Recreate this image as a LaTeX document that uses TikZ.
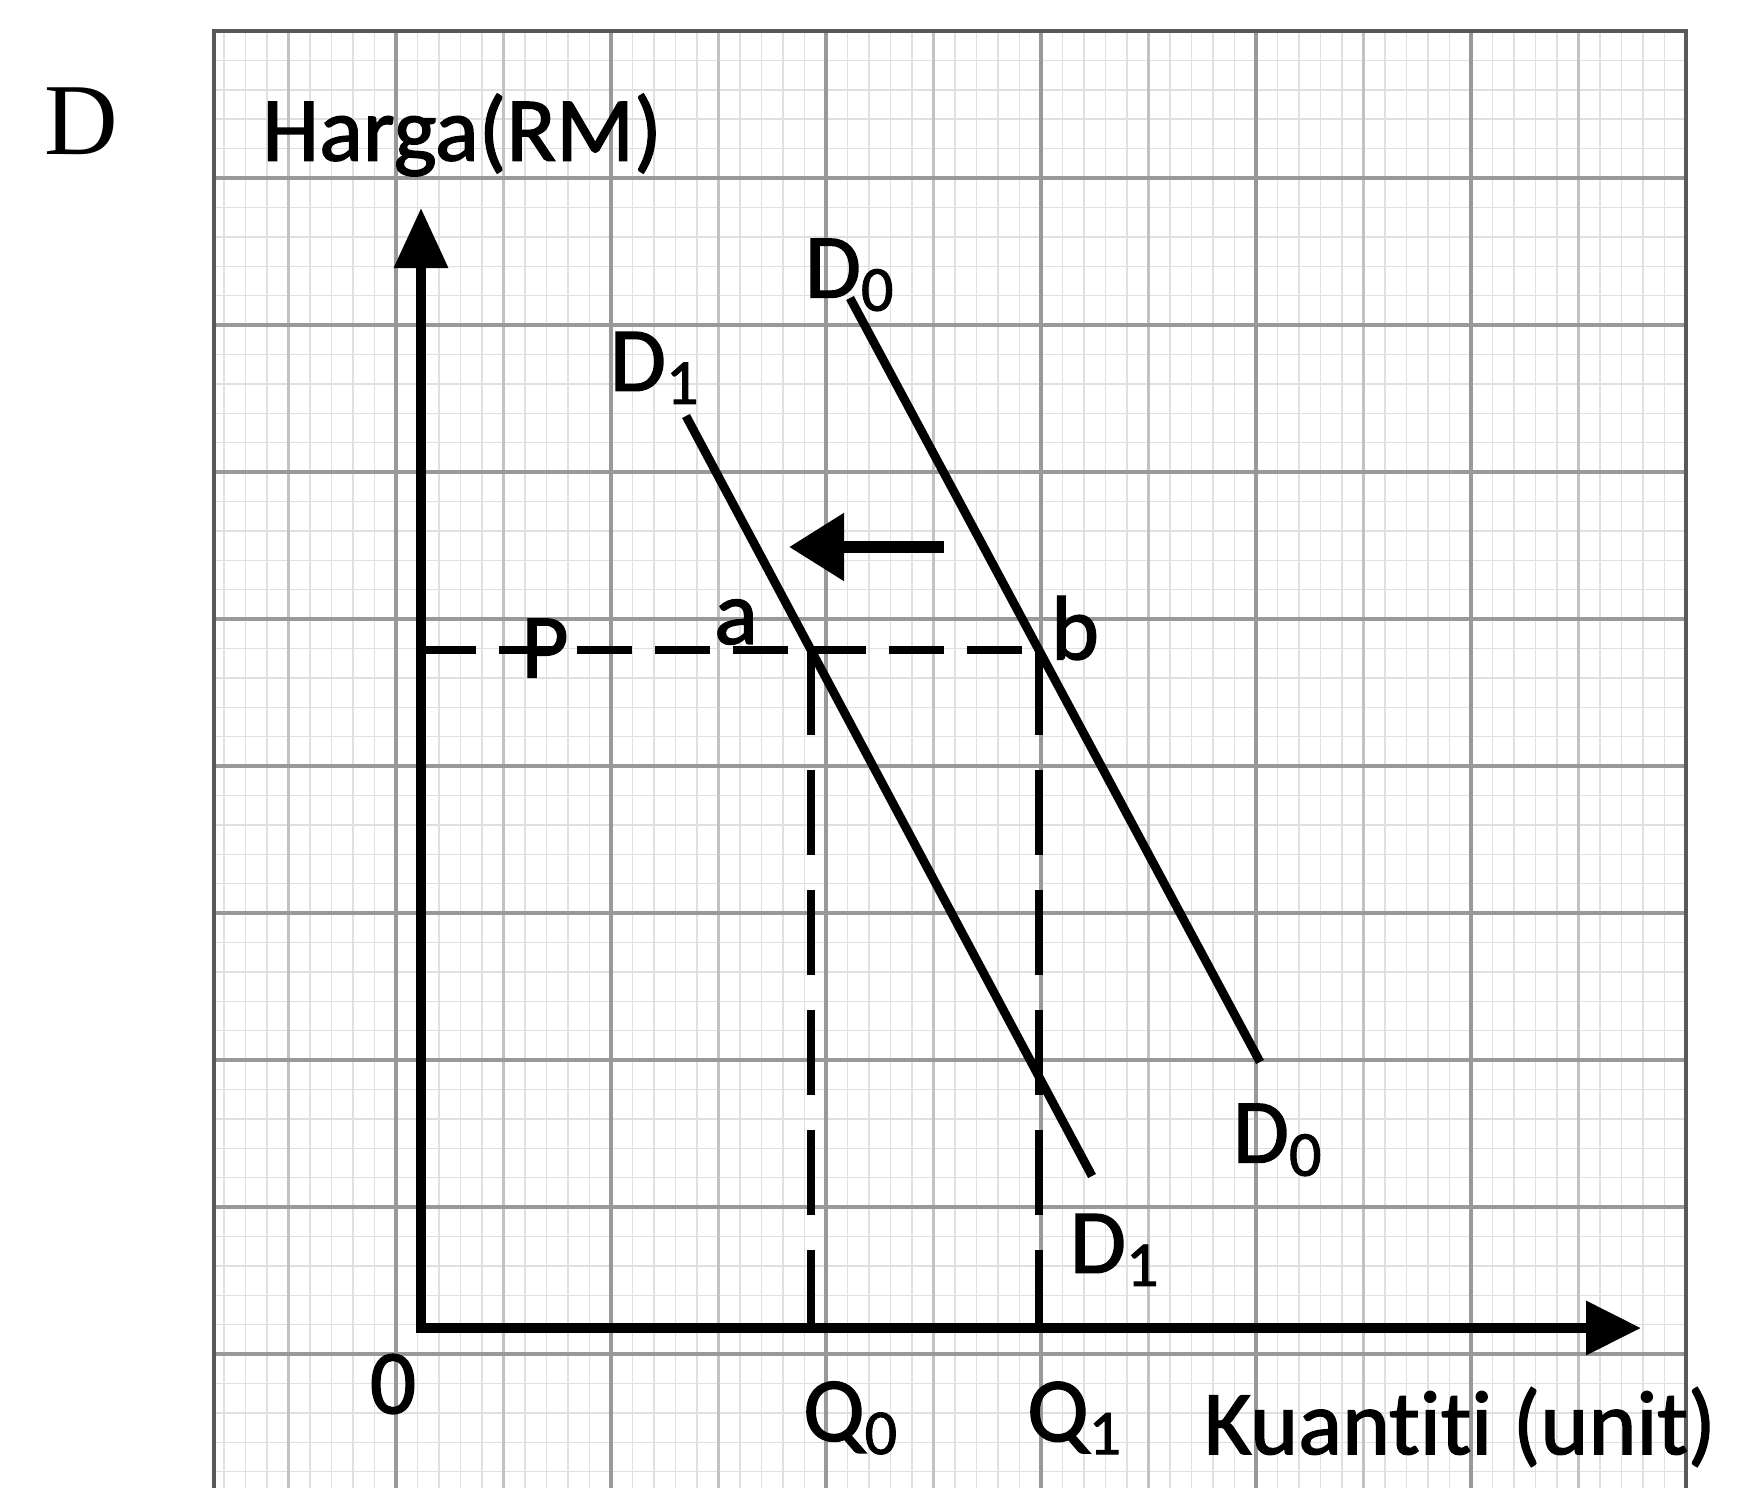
\documentclass[tikz,border=0pt]{standalone}
\usepackage{fontspec}
\setmainfont{Carlito}[Ligatures=NoCommon]
\newfontfamily\serifD{Liberation Serif}
\usetikzlibrary{arrows.meta, positioning}

\tikzset{
  minorgrid/.style={black!12, line width=0.4pt},
  midgrid/.style={black!24, line width=0.6pt},
  majorgrid/.style={black!40, line width=0.9pt},
  axes/.style={line width=2.8pt, line join=miter,
    {Triangle[length=6mm,width=5.2mm]}-{Triangle[length=5.5mm,width=5.2mm]}},
  demand/.style={line width=2.5pt},
  hguide/.style={line width=2.4pt, dash pattern=on 5.5mm off 2.3mm},
  vguide/.style={line width=2.4pt, dash pattern=on 8.5mm off 3.5mm},
  shiftarrow/.style={line width=3.4pt, -{Triangle[length=5.5mm,width=6.5mm]}},
  lbl/.style={font=\fontsize{26}{30}\selectfont\addfontfeature{FakeBold=1.5}, inner sep=0pt},
}

\begin{document}
\begin{tikzpicture}
    \useasboundingbox[fill=white] (0,0) rectangle (17.62,14.88);

    % Kertas graf
    \foreach \k in {0,...,68} {
      \pgfmathsetmacro\gx{16.86-0.215*\k}
      \draw[minorgrid] (\gx,0) -- (\gx,14.57);
    }
    \foreach \k in {0,...,49} {
      \pgfmathsetmacro\gy{14.57-0.294*\k}
      \draw[minorgrid] (2.14,\gy) -- (16.86,\gy);
    }
    \foreach \k in {5,15,...,65} {
      \pgfmathsetmacro\gx{16.86-0.215*\k}
      \draw[midgrid] (\gx,0) -- (\gx,14.57);
    }
    \foreach \k in {10,20,...,60} {
      \pgfmathsetmacro\gx{16.86-0.215*\k}
      \draw[majorgrid] (\gx,0) -- (\gx,14.57);
    }
    \foreach \k in {5,10,...,45} {
      \pgfmathsetmacro\gy{14.57-0.294*\k}
      \draw[majorgrid] (2.14,\gy) -- (16.86,\gy);
    }
    \draw[black!65, line width=1.3pt] (2.14,0) -- (2.14,14.57) -- (16.86,14.57) -- (16.86,0);

    % Label pilihan
    \node[font=\serifD\fontsize{29}{32}\selectfont, inner sep=0pt] (tag) at (0.81,13.67) {D};

    % Paksi
    \coordinate (O) at (4.21,1.60);
    \coordinate (ytop) at (4.21,12.80);
    \coordinate (xtip) at (16.41,1.60);
    \draw[axes] (ytop) -- (O) -- (xtip);
    \node[lbl] (harga) at (4.62,13.53) {Harga(RM)};
    \node[lbl] (kuantiti) at (14.60,0.61) {Kuantiti (unit)};
    \node[lbl] (zero) at (3.93,1.04) {0};

    % Titik keseimbangan
    \coordinate (pY) at (4.21,8.38);
    \coordinate (ptA) at (8.11,8.38);
    \coordinate (ptB) at (10.39,8.38);
    \coordinate (q0) at (8.11,1.60);
    \coordinate (q1) at (10.39,1.60);

    % Garis putus-putus
    \draw[hguide] (pY) -- (ptB);
    \draw[vguide] (ptA) -- (q0);
    \draw[vguide] (ptB) -- (q1);

    % Keluk permintaan
    \coordinate (d0a) at (8.50,11.90);
    \coordinate (d0b) at (12.60,4.26);
    \coordinate (d1a) at (6.86,10.72);
    \coordinate (d1b) at (10.92,3.12);
    \draw[demand] (d0a) -- (d0b);
    \draw[demand] (d1a) -- (d1b);

    % Anjakan
    \coordinate (sh1) at (9.44,9.41);
    \coordinate (sh2) at (7.89,9.41);
    \draw[shiftarrow] (sh1) -- (sh2);

    % Label
    \node[lbl] (lD0a) at (8.50,12.13) {D\textsubscript{0}};
    \node[lbl] (lD1a) at (6.55,11.20) {D\textsubscript{1}};
    \node[lbl] (lD0b) at (12.78,3.48) {D\textsubscript{0}};
    \node[lbl] (lD1b) at (11.15,2.38) {D\textsubscript{1}};
    \node[lbl] (la) at (7.36,8.66) {a};
    \node[lbl] (lb) at (10.75,8.60) {b};
    \node[lbl] (lP) at (5.45,8.40) {P};
    \node[lbl] (lQ0) at (8.51,0.70) {Q\textsubscript{0}};
    \node[lbl] (lQ1) at (10.75,0.70) {Q\textsubscript{1}};
\end{tikzpicture}
\end{document}
